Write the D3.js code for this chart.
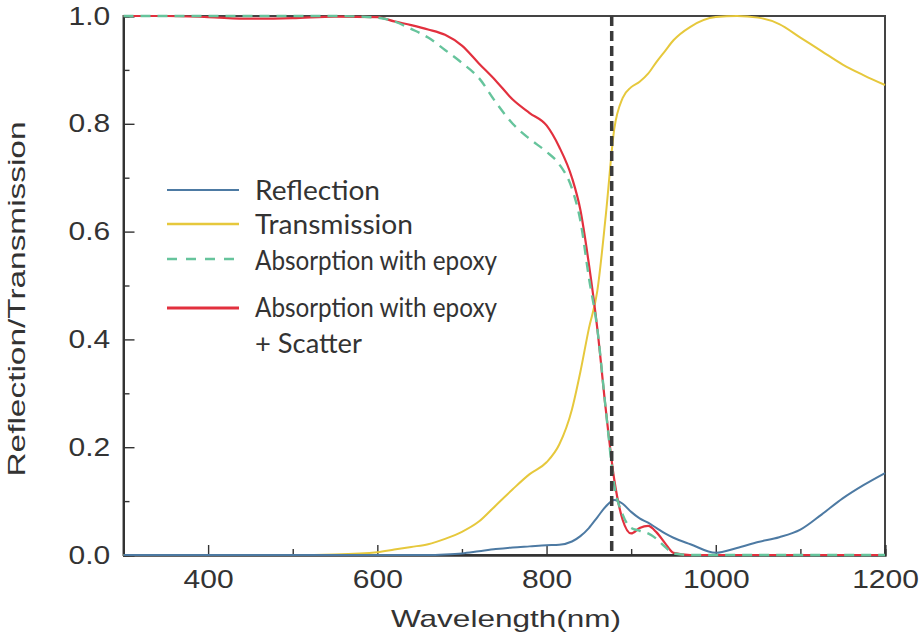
<!DOCTYPE html>
<html>
<head>
<meta charset="utf-8">
<script src="https://cdn.jsdelivr.net/npm/d3@7"></script>
<style>
  body { margin: 0; background: #fff; }
  svg { display: block; }
</style>
</head>
<body>
<div id="chart"></div>
<script>
// wavelength grid (nm) shared by all series
const wavelengths = [300, 350, 400, 450, 500, 550, 600, 620, 640, 660, 680, 700, 720, 740, 760, 780,
  800, 815, 830, 840, 850, 860, 870, 880, 890, 900, 910, 920, 930, 940, 950, 970, 1000, 1025, 1050,
  1075, 1100, 1125, 1150, 1175, 1200];

const reflection = [0, 0, 0, 0, 0, 0, 0, 0, 0, 0, 0.001, 0.003, 0.007, 0.011, 0.014, 0.016,
  0.018, 0.019, 0.025, 0.035, 0.05, 0.07, 0.09, 0.102, 0.095, 0.08, 0.068, 0.06, 0.05, 0.04, 0.032,
  0.02, 0.004, 0.013, 0.024, 0.033, 0.047, 0.075, 0.105, 0.13, 0.152];

const transmission = [0, 0, 0, 0, 0, 0.001, 0.005, 0.01, 0.015, 0.02, 0.03, 0.043, 0.062, 0.092, 0.122, 0.15,
  0.172, 0.205, 0.27, 0.34, 0.42, 0.49, 0.63, 0.79, 0.848, 0.868, 0.878, 0.893, 0.915, 0.935, 0.955,
  0.98, 0.998, 1.0, 0.997, 0.985, 0.96, 0.935, 0.91, 0.89, 0.872];

const absorptionEpoxy = [1, 1, 1, 1, 1, 1, 0.997, 0.99, 0.976, 0.96, 0.937, 0.913, 0.885, 0.84, 0.8, 0.772,
  0.748, 0.725, 0.68, 0.62, 0.515, 0.42, 0.27, 0.13, 0.075, 0.05, 0.045, 0.04, 0.03, 0.015, 0.003,
  0, 0, 0, 0, 0, 0, 0, 0, 0, 0];

const absorptionScatter = [1, 1, 0.998, 0.995, 0.996, 0.999, 0.998, 0.99, 0.983, 0.975, 0.965, 0.945, 0.912, 0.88, 0.845, 0.82,
  0.797, 0.757, 0.7, 0.64, 0.54, 0.42, 0.27, 0.14, 0.065, 0.04, 0.05, 0.054, 0.042, 0.022, 0.004,
  0, 0, 0, 0, 0, 0, 0, 0, 0, 0];

const cutoff = 877;

const xTicks = [400, 600, 800, 1000, 1200];
const xMinorTicks = [300, 500, 700, 900, 1100];
const yTicks = [0, 0.2, 0.4, 0.6, 0.8, 1.0];
const yMinorTicks = [0.1, 0.3, 0.5, 0.7, 0.9];

const legendLabels = ["Reflection", "Transmission", "Absorption with epoxy", "Absorption with epoxy"];
const legendExtra = "+ Scatter";
const xTitle = "Wavelength(nm)";
const yTitle = "Reflection/Transmission";

const W = 922, H = 638;
const margin = {top: 16, right: 37, bottom: 83, left: 123.5};
const width = W - margin.left - margin.right,
      height = H - margin.top - margin.bottom;

const svg = d3.select("#chart").append("svg")
    .attr("width", W)
    .attr("height", H);

const g = svg.append("g")
    .attr("transform", "translate(" + margin.left + "," + margin.top + ")");

const x = d3.scaleLinear().domain([300, 1200]).range([0, width]);
const y = d3.scaleLinear().domain([0, 1]).range([height, 0]);

// frame
g.append("rect")
    .attr("width", width).attr("height", height)
    .attr("fill", "none").attr("stroke", "#444").attr("stroke-width", 2);

const tickFont = "'Liberation Sans', Arial, sans-serif";

// y axis, ticks pointing inward
g.append("g")
    .call(d3.axisLeft(y).tickValues(yTicks).tickFormat(d3.format(".1f")).tickSize(-11).tickPadding(11));
g.append("g")
    .call(d3.axisLeft(y).tickValues(yMinorTicks).tickFormat("").tickSize(-6));

// x axis
g.append("g")
    .attr("transform", "translate(0," + height + ")")
    .call(d3.axisBottom(x).tickValues(xTicks).tickFormat(d3.format("d")).tickSize(-10).tickPadding(15));
g.append("g")
    .attr("transform", "translate(0," + height + ")")
    .call(d3.axisBottom(x).tickValues(xMinorTicks).tickFormat("").tickSize(-6));

g.selectAll(".domain").attr("stroke", "#333").attr("stroke-width", 2);
g.selectAll(".tick line").attr("stroke", "#333").attr("stroke-width", 1.4);
g.selectAll(".tick text")
    .attr("font-family", tickFont)
    .attr("font-size", 25)
    .attr("fill", "#333")
    .attr("transform", "scale(1.2,1)");

// series
const series = [
  {values: transmission, color: "#e6c83c", width: 2, dash: null},
  {values: reflection, color: "#4d7aa3", width: 2, dash: null},
  {values: absorptionScatter, color: "#e2303e", width: 2.2, dash: null},
  {values: absorptionEpoxy, color: "#66c49c", width: 2.4, dash: "10,7"}
];

const line = d3.line()
    .x((d, i) => x(wavelengths[i]))
    .y(d => y(d))
    .curve(d3.curveMonotoneX);

series.forEach(s => {
  g.append("path")
      .datum(s.values)
      .attr("fill", "none")
      .attr("stroke", s.color)
      .attr("stroke-width", s.width)
      .attr("stroke-dasharray", s.dash)
      .attr("d", line);
});

// cutoff marker
g.append("line")
    .attr("x1", x(cutoff)).attr("x2", x(cutoff))
    .attr("y1", 0).attr("y2", height)
    .attr("stroke", "#3a3a3a")
    .attr("stroke-width", 3.5)
    .attr("stroke-dasharray", "10,5");

// legend
const legendFont = "Lato, 'Open Sans', sans-serif";
const legendRows = [
  {label: legendLabels[0], color: "#4d7aa3", dash: null, width: 2.2, ly: 190, ty: 200, tl: 125},
  {label: legendLabels[1], color: "#e6c83c", dash: null, width: 2.6, ly: 224, ty: 234, tl: 158},
  {label: legendLabels[2], color: "#66c49c", dash: "10,9", width: 2.6, ly: 259, ty: 270, tl: 242},
  {label: legendLabels[3], color: "#e2303e", dash: null, width: 3, ly: 308, ty: 317, tl: 242}
];

const legend = svg.append("g");
legendRows.forEach(r => {
  legend.append("line")
      .attr("x1", 167).attr("x2", 239)
      .attr("y1", r.ly).attr("y2", r.ly)
      .attr("stroke", r.color)
      .attr("stroke-width", r.width)
      .attr("stroke-dasharray", r.dash);
  legend.append("text")
      .attr("x", 255).attr("y", r.ty)
      .attr("font-family", legendFont)
      .attr("font-size", 26)
      .attr("fill", "#333")
      .attr("textLength", r.tl)
      .attr("lengthAdjust", "spacingAndGlyphs")
      .text(r.label);
});
legend.append("text")
    .attr("x", 255).attr("y", 353)
    .attr("font-family", legendFont)
    .attr("font-size", 26)
    .attr("fill", "#333")
    .attr("textLength", 107)
    .attr("lengthAdjust", "spacingAndGlyphs")
    .text(legendExtra);

// axis titles
svg.append("text")
    .attr("x", 506).attr("y", 627)
    .attr("text-anchor", "middle")
    .attr("font-family", tickFont)
    .attr("font-size", 24)
    .attr("fill", "#333")
    .attr("textLength", 230)
    .attr("lengthAdjust", "spacingAndGlyphs")
    .text(xTitle);

svg.append("text")
    .attr("transform", "translate(25,299) rotate(-90)")
    .attr("text-anchor", "middle")
    .attr("font-family", tickFont)
    .attr("font-size", 24)
    .attr("fill", "#333")
    .attr("textLength", 355)
    .attr("lengthAdjust", "spacingAndGlyphs")
    .text(yTitle);
</script>
</body>
</html>
